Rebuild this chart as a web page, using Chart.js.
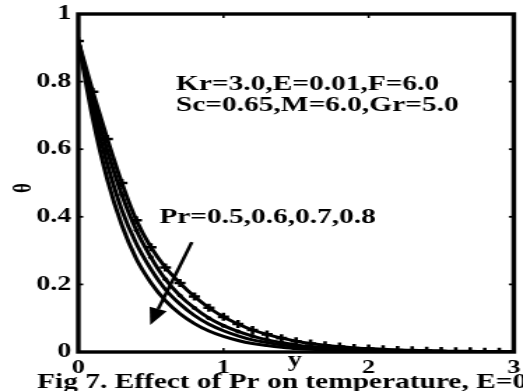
<!DOCTYPE html>
<html>
<head>
<meta charset="utf-8">
<script src="https://cdn.jsdelivr.net/npm/chart.js@4.4.1/dist/chart.umd.min.js"></script>
<style>
html,body{margin:0;padding:0;background:#fff;overflow:hidden;}
#c{position:absolute;left:0;top:0;transform:scaleX(1.3984);transform-origin:0 0;}
</style>
</head>
<body>
<canvas id="c" width="374" height="391"></canvas>
<script>
// distance y (x-axis) categories
const yPos = [0,0.1,0.2,0.3,0.4,0.5,0.6,0.7,0.8,0.9,1.0,1.1,1.2,1.3,1.4,1.5,1.6,1.7,1.8,1.9,2.0,2.1,2.2,2.3,2.4,2.5,2.6,2.7,2.8,2.9,3.0];
// temperature profiles theta for Pr = 0.5, 0.6, 0.7, 0.8
const thetaPr05 = [0.92,0.77,0.63,0.50,0.39,0.31,0.25,0.204,0.164,0.131,0.104,0.083,0.065,0.052,0.041,0.032,0.025,0.020,0.016,0.012,0.010,0.008,0.006,0.005,0.004,0.003,0.002,0.002,0.001,0.001,0.000];
const thetaPr06 = [0.92,0.745,0.595,0.465,0.36,0.28,0.215,0.167,0.13,0.10,0.078,0.061,0.047,0.036,0.028,0.021,0.016,0.013,0.010,0.007,0.006,0.004,0.003,0.003,0.002,0.002,0.001,0.001,0.001,0.000,0.000];
const thetaPr07 = [0.92,0.72,0.555,0.42,0.32,0.245,0.185,0.142,0.108,0.082,0.063,0.048,0.036,0.028,0.021,0.016,0.012,0.009,0.007,0.005,0.004,0.003,0.002,0.002,0.001,0.001,0.001,0.000,0.000,0.000,0.000];
const thetaPr08 = [0.92,0.69,0.51,0.375,0.275,0.205,0.152,0.113,0.084,0.062,0.046,0.034,0.025,0.019,0.014,0.010,0.008,0.006,0.004,0.003,0.002,0.002,0.001,0.001,0.001,0.000,0.000,0.000,0.000,0.000,0.000];
const xTicks = [0,1,2,3];
const xTickLabels = ["0","1","2","3"];
const yTicks = [0,0.2,0.4,0.6,0.8,1];
const yTickLabels = ["0","0.2","0.4","0.6","0.8","1"];
const labelsText = {
  params1: "Kr=3.0,E=0.01,F=6.0",
  params2: "Sc=0.65,M=6.0,Gr=5.0",
  pr: "Pr=0.5,0.6,0.7,0.8",
  xTitle: "y",
  yTitle: "\u03b8",
  caption: "Fig 7. Effect of Pr on temperature, E=0"
};

function pts(arr){ return yPos.map((x,i)=>({x:x,y:arr[i]})); }

const serif = '"Liberation Serif","Times New Roman",serif';

const decor = {
  id:'decor',
  afterDraw(chart){
    const ctx = chart.ctx;
    const xs = chart.scales.x, ys = chart.scales.y;
    const a = chart.chartArea;
    ctx.save();
    ctx.strokeStyle = '#000';
    ctx.fillStyle = '#000';
    // inward ticks
    ctx.lineWidth = 1.8;
    yTicks.forEach(v=>{
      if (v===0||v===1) return;
      const p = ys.getPixelForValue(v);
      ctx.beginPath(); ctx.moveTo(a.left, p); ctx.lineTo(a.left+3.5, p); ctx.stroke();
      ctx.beginPath(); ctx.moveTo(a.right, p); ctx.lineTo(a.right-3.5, p); ctx.stroke();
    });
    ctx.lineWidth = 1.6;
    xTicks.forEach(v=>{
      if (v===0||v===3) return;
      const p = xs.getPixelForValue(v);
      ctx.beginPath(); ctx.moveTo(p, a.bottom); ctx.lineTo(p, a.bottom-4); ctx.stroke();
      ctx.beginPath(); ctx.moveTo(p, a.top); ctx.lineTo(p, a.top+4); ctx.stroke();
    });
    // frame
    ctx.lineWidth = 3.4;
    ctx.strokeRect(a.left, a.top, a.right-a.left, a.bottom-a.top);

    // arrow (data coords)
    const sx = xs.getPixelForValue(0.782), sy = ys.getPixelForValue(0.325);
    const tx = xs.getPixelForValue(0.495), ty = ys.getPixelForValue(0.08);
    const ang = Math.atan2(ty-sy, tx-sx);
    const hl = 17, hw = 6.5;
    const bx = tx - hl*Math.cos(ang), by = ty - hl*Math.sin(ang);
    ctx.lineWidth = 2.6;
    ctx.beginPath(); ctx.moveTo(sx, sy); ctx.lineTo(bx, by); ctx.stroke();
    ctx.beginPath();
    ctx.moveTo(tx, ty);
    ctx.lineTo(bx + hw*Math.sin(ang), by - hw*Math.cos(ang));
    ctx.lineTo(bx - hw*Math.sin(ang), by + hw*Math.cos(ang));
    ctx.closePath(); ctx.fill();

    // annotations
    ctx.font = 'bold 21px ' + serif;
    ctx.textAlign = 'left'; ctx.textBaseline = 'alphabetic';
    ctx.fillText(labelsText.params1, xs.getPixelForValue(0.673), ys.getPixelForValue(0.775));
    ctx.fillText(labelsText.params2, xs.getPixelForValue(0.673), ys.getPixelForValue(0.713));
    ctx.fillText(labelsText.pr, xs.getPixelForValue(0.558), ys.getPixelForValue(0.382));

    // axis titles
    ctx.font = 'bold 20px ' + serif;
    ctx.textAlign = 'center';
    ctx.fillText(labelsText.xTitle, xs.getPixelForValue(1.49), 366);
    ctx.save();
    ctx.translate(17.5, 188);
    ctx.rotate(-Math.PI/2);
    ctx.textBaseline = 'middle';
    ctx.font = 'bold 19px ' + serif;
    ctx.fillText(labelsText.yTitle, 0, 0);
    ctx.restore();

    // caption
    ctx.font = 'bold 21px ' + serif;
    ctx.textAlign = 'left';
    ctx.fillText(labelsText.caption, 26.5, 388);
    ctx.restore();
  }
};

const common = {borderColor:'#000', backgroundColor:'#000', borderWidth:3, fill:false, cubicInterpolationMode:'monotone'};

new Chart(document.getElementById('c'), {
  type:'line',
  data:{
    datasets:[
      Object.assign({label:'Pr=0.5', data:pts(thetaPr05), pointStyle:'cross', pointRadius:4, pointBorderWidth:2.6, pointBorderColor:'#000'}, common),
      Object.assign({label:'Pr=0.6', data:pts(thetaPr06), pointStyle:'circle', pointRadius:2, pointBorderWidth:0, pointBackgroundColor:'#000'}, common),
      Object.assign({label:'Pr=0.7', data:pts(thetaPr07), pointRadius:0}, common),
      Object.assign({label:'Pr=0.8', data:pts(thetaPr08), pointRadius:0}, common)
    ]
  },
  options:{
    responsive:false,
    devicePixelRatio:1,
    animation:false,
    layout:{padding:{top:14,right:3,left:0,bottom:0}},
    plugins:{legend:{display:false}, tooltip:{enabled:false}},
    elements:{line:{borderCapStyle:'round'}},
    scales:{
      x:{
        type:'linear', min:0, max:3,
        afterBuildTicks(s){ s.ticks = xTicks.map(v=>({value:v})); },
        ticks:{color:'#000', font:{family:serif, weight:'bold', size:19}, padding:5, maxRotation:0, autoSkip:false,
          callback:(v)=>{ const i = xTicks.indexOf(v); return i>=0 ? xTickLabels[i] : ''; }},
        grid:{display:false, drawTicks:false},
        border:{display:false},
        afterFit(s){ s.height = 39; s.paddingLeft = 0; s.paddingRight = 0; }
      },
      y:{
        type:'linear', min:0, max:1,
        afterBuildTicks(s){ s.ticks = yTicks.map(v=>({value:v})); },
        ticks:{color:'#000', font:{family:serif, weight:'bold', size:20}, padding:5,
          callback:(v)=>{ const i = yTicks.findIndex(t=>Math.abs(t-v)<1e-9); return i>=0 ? yTickLabels[i] : ''; }},
        grid:{display:false, drawTicks:false},
        border:{display:false},
        afterFit(s){ s.width = 56; s.paddingTop = 0; s.paddingBottom = 0; }
      }
    }
  },
  plugins:[decor]
});
</script>
</body>
</html>
